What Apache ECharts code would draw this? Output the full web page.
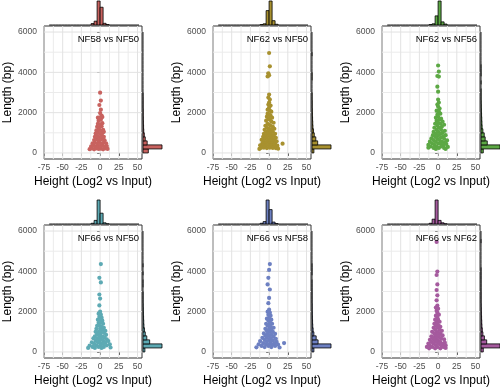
<!DOCTYPE html>
<html><head><meta charset="utf-8">
<script src="https://cdn.jsdelivr.net/npm/echarts@6/dist/echarts.min.js"></script>
<style>html,body{margin:0;padding:0;background:#fff}#c{width:500px;height:388px}</style>
</head><body><div id="c"></div>
<script>
// ---------- data ----------
const panelTitles = ['NF58 vs NF50','NF62 vs NF50','NF62 vs NF56','NF66 vs NF50','NF66 vs NF58','NF66 vs NF62'];
const panelColors = ['#C8625F','#A8912F','#5CA844','#5DAAB4','#6D80C2','#A55A9E'];
const xTicks = [-75,-50,-25,0,25,50];
const xMinorTicks = [-62.5,-37.5,-12.5,12.5,37.5];
const yTicks = [0,2000,4000,6000];
const yMinorTicks = [1000,3000,5000];
const xTitle = 'Height (Log2 vs Input)';
const yTitle = 'Length (bp)';

// scatter points [height, length]
const pts1 = [[-14,190],[-11,220],[-8,180],[-5,230],[-2,200],[1,210],[4,180],[7,230],[10,200],
[-12,330],[-9,360],[-6,310],[-3,350],[0,320],[3,360],[6,310],[9,340],
[-10,480],[-7,520],[-4,460],[-1,500],[2,470],[5,520],[8,480],
[-8,640],[-5,680],[-2,620],[1,660],[4,700],[6,630],
[-7,800],[-4,840],[-1,780],[2,820],[5,800],
[-6,960],[-3,1000],[0,940],[3,980],[5,1050],
[-5,1120],[-2,1160],[1,1100],[4,1150],
[-4,1300],[-1,1270],[2,1320],
[-3,1450],[0,1420],[3,1480],
[-2,1600],[1,1650],[-3,1750],[3,1780],[-1,1750],[2,1850],[0,1980],[1,2150],[-1,2380],[1,2600],[0,2990]];
const pts2 = [[0,4960],[1,4300],[-1,3950],[-2,3800],[0,3850],
[0,2900],[-1,2750],[1,2650],[0,2500],[-1,2400],[2,2350],[0,2250],[-2,2150],[1,2100],[3,2050],
[-2,1950],[0,1900],[2,1850],[-3,1800],[4,1750],[-1,1700],[1,1650],[-4,1600],[3,1550],[6,1500],
[-2,1450],[0,1400],[-5,1350],[2,1350],[5,1300],[-3,1250],[0,1200],[7,1200],[-6,1150],[3,1150],
[-1,1100],[-4,1050],[5,1050],[1,1000],[-7,950],[-2,950],[8,950],[3,900],
[-5,850],[0,850],[6,850],[-8,800],[-3,750],[2,750],[9,750],[-6,700],[4,700],
[-10,650],[-1,650],[7,650],[-7,580],[-3,560],[1,580],[5,560],[10,580],
[-9,480],[-5,460],[0,470],[4,480],[8,460],[18,460],
[-12,380],[-8,360],[-4,380],[0,360],[3,370],[7,380],[11,360],
[-11,250],[-7,260],[-3,240],[1,260],[5,250],[9,240],[-13,200],[12,210]];
const pts3 = [[0,4340],[1,4040],[-1,3820],[1,3790],[-1,3290],[0,3040],
[0,2650],[1,2500],[-1,2400],[0,2300],[2,2200],[-2,2100],[1,2050],[3,1950],[-1,1900],
[0,1800],[-3,1750],[4,1700],[2,1650],[-2,1600],[6,1550],[0,1500],[-4,1450],[3,1450],
[8,1400],[-1,1350],[5,1300],[-5,1250],[1,1250],[-2,1150],[4,1150],[9,1100],[-6,1050],[0,1050],
[6,1000],[-3,950],[3,950],[-7,880],[0,870],[10,880],[7,820],[-4,800],[4,780],
[-9,720],[-1,700],[8,700],[-6,640],[2,640],[12,620],[-11,560],[-3,560],[5,560],[9,520],
[-8,480],[0,470],[3,470],[11,440],[-13,400],[-5,400],[7,400],[-10,320],[-2,320],[4,320],
[13,300],[-13,260],[-6,250],[1,250],[8,250],[-3,200],[10,200]];
const pts4 = [[1,4360],[-1,3680],[1,3450],[-1,2850],[0,2650],[-1,2310],
[0,2000],[-2,1900],[1,1850],[-1,1750],[2,1700],[-3,1600],[0,1600],[3,1550],[-2,1450],[1,1450],[4,1400],
[-4,1300],[-1,1300],[2,1250],[5,1200],[-5,1150],[0,1150],[3,1100],[7,1050],[-6,1000],[-2,1000],[1,980],[5,950],
[-4,880],[0,850],[8,850],[-7,780],[-1,780],[3,760],[6,720],[-9,680],[-4,660],[1,650],[9,620],
[-6,560],[-1,560],[4,560],[11,540],[-11,480],[-3,480],[7,470],[1,430],[-8,400],[4,400],[13,380],
[-14,320],[-5,320],[0,320],[9,330],[-10,250],[-2,250],[5,250],[-16,200],[-7,200],[2,200],[14,220]];
const pts5 = [[1,4360],[0,4070],[-1,3680],[-2,3350],[1,3100],[0,2680],[-1,2420],
[0,2100],[-2,2000],[1,1950],[-1,1850],[2,1800],[0,1700],[-3,1650],[3,1600],[-1,1550],[1,1500],
[-4,1400],[4,1400],[0,1350],[-2,1300],[2,1250],[6,1200],[-5,1150],[0,1150],[3,1100],[-3,1050],[1,1000],[5,1000],
[-7,920],[-2,900],[8,900],[3,850],[-5,800],[0,800],[6,760],[-9,700],[-3,700],[2,680],[9,650],
[-6,600],[0,600],[5,580],[-12,540],[-3,520],[2,500],[10,500],[-8,440],[7,440],[20,440],
[-14,380],[-4,380],[0,380],[4,360],[12,360],[-10,300],[-1,300],[8,300],[-17,230],[-6,240],[3,240],[14,220]];
const pts6 = [[-2,5460],[-1,3990],[-2,3820],[-1,3350],[-2,3070],[-1,2810],[-2,2560],
[-1,2300],[-3,2200],[0,2150],[-2,2050],[-1,1950],[1,1850],[-3,1800],[-1,1700],[-4,1600],[0,1600],[2,1500],
[-2,1500],[-5,1400],[-1,1400],[1,1300],[-3,1300],[3,1250],[-6,1200],[-1,1200],[-4,1100],[2,1100],[5,1050],
[-8,1000],[-2,1000],[0,950],[-5,900],[3,900],[-1,850],[6,820],[-9,780],[-4,780],[1,760],
[-7,680],[-2,680],[4,680],[8,620],[-11,600],[-5,580],[0,580],[-9,500],[-2,500],[3,500],[9,460],
[-13,420],[-6,420],[1,420],[6,400],[-11,330],[-3,330],[4,330],[10,330],[-15,250],[-8,250],[-1,250],[7,250],
[-12,180],[-4,180],[3,180],[10,200]];

// marginal histograms (relative counts); x bins of width 4 from -68, y bins of width 200 from 0
const xBinStart = -68, xBinWidth = 4;
const yBinStart = 0, yBinWidth = 200;
const histX1 = [0,0,0,0,0,0,0,0,0,0,0,0,0,0,6,16,100,74,7,2,0,0,0,0,0,0,0,0,0,0];
const histX2 = [0,0,0,0,0,0,0,0,0,0,0,0,0,0,2,5,60,100,18,3,0,0,0,0,0,0,0,0,0,0];
const histX3 = [0,0,0,0,0,0,0,0,0,0,0,0,0,0,2,5,38,100,13,4,0,0,0,0,0,0,0,0,0,0];
const histX4 = [0,0,0,0,0,0,0,0,0,0,0,0,0,0,3,15,100,45,5,1,0,0,0,0,0,0,0,0,0,0];
const histX5 = [0,0,0,0,0,0,0,0,0,0,0,0,0,0,3,10,100,60,8,2,0,0,0,0,0,0,0,0,0,0];
const histX6 = [0,0,0,0,0,0,0,0,0,0,0,0,0,0,3,20,100,15,5,1,0,0,0,0,0,0,0,0,0,0];
const histY1 = [28,100,22,12,7,4,3,2,1.5,1,1,0.5,0.5,0.5,0.3,0,0,0,0,0,0,0,0,0,0,0,0,0,0,0];
const histY2 = [10,100,30,20,12,8,5,4,3,2,1.5,1,1,0.5,0.5,0,0,0,0.5,0.5,0,0,0,0,0.3,0,0,0,0,0];
const histY3 = [12,100,33,22,17,10,6,5,4,3,2,1.5,1,0.5,0.5,0.5,0,0.5,0,0.5,0.3,0.3,0,0,0,0,0,0,0,0];
const histY4 = [10,100,35,20,12,8,5,4,3,2,1.5,1,0.5,0.5,0.5,0,0.3,0.3,0,0.3,0,0.3,0,0,0,0,0,0,0,0];
const histY5 = [10,100,32,22,10,6,4,3,2,1.5,1,1,0.5,0.5,0.5,0.3,0.3,0.3,0,0.3,0.3,0.3,0,0,0,0,0,0,0,0];
const histY6 = [12,100,30,18,10,7,5,4,3,2,1.5,1,0.5,0.5,0.5,0.3,0.3,0.3,0.3,0.3,0.3,0,0,0,0,0,0,0.3,0,0];

const panelPts = [pts1,pts2,pts3,pts4,pts5,pts6];
const panelHistX = [histX1,histX2,histX3,histX4,histX5,histX6];
const panelHistY = [histY1,histY2,histY3,histY4,histY5,histY6];

// ---------- layout ----------
const colLeft = [44, 213, 382];
const rowTop = [26, 225];
const plotW = 98, plotH = 133;
const X_MIN = -75, X_MAX = 56, Y_MIN = -300, Y_MAX = 6300;
const FONT = '"Liberation Sans", Arial, sans-serif';

const chart = echarts.init(document.getElementById('c'), null, {renderer: 'canvas'});
const grid = [], xAxis = [], yAxis = [], series = [], graphic = [];

function gridLineData() {
  const d = [];
  xMinorTicks.forEach(v => d.push([0, 0, v]));
  yMinorTicks.forEach(v => d.push([0, 1, v]));
  xTicks.forEach(v => d.push([1, 0, v]));
  yTicks.forEach(v => d.push([1, 1, v]));
  return d;
}

panelTitles.forEach((title, i) => {
  const L = colLeft[i % 3], T = rowTop[Math.floor(i / 3)];
  const color = panelColors[i];
  // main plot
  const g = grid.length;
  grid.push({left: L, top: T, width: plotW, height: plotH, show: true, borderColor: '#333', borderWidth: 1, backgroundColor: '#fff'});
  xAxis.push({gridIndex: g, type: 'value', min: X_MIN, max: X_MAX,
    name: xTitle, nameLocation: 'middle', nameGap: 17,
    nameTextStyle: {fontSize: 12, color: '#000', fontFamily: FONT},
    axisLine: {show: false},
    axisTick: {show: true, length: 3, lineStyle: {color: '#333', width: 1}, customValues: xTicks},
    axisLabel: {customValues: xTicks, fontSize: 8.5, color: '#4d4d4d', margin: 4, fontFamily: FONT,
      formatter: v => String(v)},
    splitLine: {show: false}});
  yAxis.push({gridIndex: g, type: 'value', min: Y_MIN, max: Y_MAX,
    name: yTitle, nameLocation: 'middle', nameGap: 30,
    nameTextStyle: {fontSize: 12, color: '#000', fontFamily: FONT},
    axisLine: {show: false},
    axisTick: {show: true, length: 3, lineStyle: {color: '#333', width: 1}, customValues: yTicks},
    axisLabel: {customValues: yTicks, fontSize: 8.5, color: '#4d4d4d', margin: 7, fontFamily: FONT,
      formatter: v => String(v)},
    splitLine: {show: false}});
  series.push({type: 'custom', xAxisIndex: g, yAxisIndex: g, silent: true, z: 1, animation: false,
    data: gridLineData(),
    renderItem: function (params, api) {
      const major = api.value(0), axis = api.value(1), v = api.value(2);
      let p0, p1;
      if (axis === 0) { p0 = api.coord([v, Y_MIN]); p1 = api.coord([v, Y_MAX]); }
      else { p0 = api.coord([X_MIN, v]); p1 = api.coord([X_MAX, v]); }
      return {type: 'line', shape: {x1: p0[0], y1: p0[1], x2: p1[0], y2: p1[1]},
        style: {stroke: major ? '#E2E2E2' : '#EBEBEB', lineWidth: 1}};
    }});
  series.push({type: 'scatter', xAxisIndex: g, yAxisIndex: g, data: panelPts[i], symbol: 'circle', symbolSize: 4.2,
    itemStyle: {color: color, opacity: 1}, z: 3, animation: false, silent: true});

  // top marginal histogram
  const gt = grid.length;
  grid.push({left: L, top: T - 25, width: plotW, height: 24, show: false});
  xAxis.push({gridIndex: gt, type: 'value', min: X_MIN, max: X_MAX, show: false});
  yAxis.push({gridIndex: gt, type: 'value', min: 0, max: 100, show: false});
  series.push({type: 'custom', xAxisIndex: gt, yAxisIndex: gt, silent: true, animation: false, z: 2,
    data: panelHistX[i].map((c, k) => [xBinStart + k * xBinWidth, xBinStart + (k + 1) * xBinWidth, c]),
    encode: {x: [0, 1], y: 2},
    renderItem: function (params, api) {
      const a = api.coord([api.value(0), 0]), b = api.coord([api.value(1), api.value(2)]);
      if (api.value(2) === 0) {
        return {type: 'line', shape: {x1: a[0], y1: a[1], x2: b[0], y2: a[1]}, style: {stroke: '#000', lineWidth: 0.9}};
      }
      return {type: 'rect', shape: {x: a[0], y: b[1], width: b[0] - a[0], height: a[1] - b[1]},
        style: {fill: color, stroke: '#000', lineWidth: 0.8}};
    }});

  // right marginal histogram
  const gr = grid.length;
  grid.push({left: L + plotW + 1, top: T, width: 19, height: plotH, show: false});
  xAxis.push({gridIndex: gr, type: 'value', min: 0, max: 100, show: false});
  yAxis.push({gridIndex: gr, type: 'value', min: Y_MIN, max: Y_MAX, show: false});
  series.push({type: 'custom', xAxisIndex: gr, yAxisIndex: gr, silent: true, animation: false, z: 2,
    data: panelHistY[i].map((c, k) => [yBinStart + k * yBinWidth, yBinStart + (k + 1) * yBinWidth, c]),
    encode: {y: [0, 1], x: 2},
    renderItem: function (params, api) {
      const a = api.coord([0, api.value(0)]), b = api.coord([api.value(2), api.value(1)]);
      if (api.value(2) === 0) {
        return {type: 'line', shape: {x1: a[0], y1: a[1], x2: a[0], y2: b[1]}, style: {stroke: '#000', lineWidth: 0.9}};
      }
      return {type: 'rect', shape: {x: a[0], y: b[1], width: b[0] - a[0], height: a[1] - b[1]},
        style: {fill: color, stroke: '#000', lineWidth: 0.8}};
    }});

  graphic.push({type: 'text', x: L + plotW - 3, y: T + 13.5, z: 10,
    style: {text: title, align: 'right', verticalAlign: 'middle', fill: '#000', font: '9.5px ' + FONT}});
});

chart.setOption({animation: false, backgroundColor: '#fff', grid, xAxis, yAxis, series, graphic});
</script>
</body></html>
